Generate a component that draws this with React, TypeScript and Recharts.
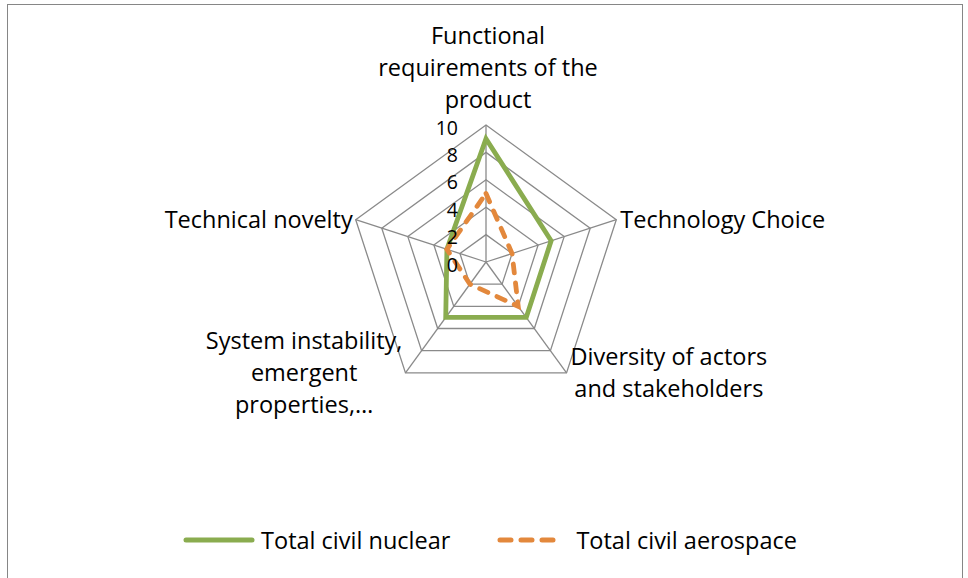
import { RadarChart, Radar, PolarGrid, PolarAngleAxis, PolarRadiusAxis, Legend } from "recharts"

const categories = [
  "Functional requirements of the product",
  "Technology Choice",
  "Diversity of actors and stakeholders",
  "System instability, emergent properties,…",
  "Technical novelty",
]
const categoryLines = [
  ["Functional", "requirements of the", "product"],
  ["Technology Choice"],
  ["Diversity of actors", "and stakeholders"],
  ["System instability,", "emergent", "properties,…"],
  ["Technical novelty"],
]
const seriesNames = ["Total civil nuclear", "Total civil aerospace"]
const civilNuclear = [9, 5, 5, 5, 3]
const civilAerospace = [5, 2, 4, 2, 3]
const radiusTicks = [0, 2, 4, 6, 8, 10]

const data = categories.map((c, i) => ({
  category: c,
  nuclear: civilNuclear[i],
  aerospace: civilAerospace[i],
}))

const CX = 486
const CY = 262
const R = 137
const FONT = "'Open Sans', Lato, sans-serif"
const FS = 23.5
const TICK_FS = 19.5
const LINE_H = 32
const GREEN = "#8AAC4F"
const ORANGE = "#E3883C"
const GRID = "#8a8a8a"

let ctx: CanvasRenderingContext2D | null = null
function textWidth(s: string) {
  if (!ctx) ctx = document.createElement("canvas").getContext("2d")
  if (!ctx) return s.length * FS * 0.55
  ctx.font = `${FS}px 'Open Sans'`
  return ctx.measureText(s).width
}

function AngleTick(props: any) {
  const { x, y, payload } = props
  const idx = categories.indexOf(payload.value)
  const lines = categoryLines[idx] || [String(payload.value)]
  const dx = x - CX
  const dy = y - CY
  const len = Math.sqrt(dx * dx + dy * dy) || 1
  const vx = CX + (dx / len) * R
  const vy = CY + (dy / len) * R
  const maxW = Math.max(...lines.map(textWidth))

  let centerX = vx
  let firstY = vy
  if (Math.abs(dx) < 2 && dy < 0) {
    // top label sits above the vertex
    centerX = vx + 2
    firstY = vy - 26 - (lines.length - 1) * LINE_H
  } else {
    centerX = dx > 0 ? vx + 4 + maxW / 2 : vx - 3 - maxW / 2
    firstY = vy - 1 - ((lines.length - 1) * LINE_H) / 2
  }
  return (
    <text textAnchor="middle" fontFamily={FONT} fontSize={FS} fill="#000">
      {lines.map((l, i) => (
        <tspan key={i} x={centerX} y={firstY + i * LINE_H} dominantBaseline="central">
          {l}
        </tspan>
      ))}
    </text>
  )
}

function RadiusTick(props: any) {
  const { x, y, payload } = props
  return (
    <text x={x - 28} y={y + 2} textAnchor="end" dominantBaseline="central" fontFamily={FONT} fontSize={TICK_FS} fill="#000">
      {payload.value}
    </text>
  )
}

function LegendContent(props: any) {
  const items = [...(props.payload || [])].sort(
    (a: any, b: any) => seriesNames.indexOf(a.value) - seriesNames.indexOf(b.value)
  )
  return (
    <div style={{ display: "flex", justifyContent: "center", alignItems: "center", paddingLeft: 12, fontFamily: FONT, fontSize: FS }}>
      {items.map((it: any, i: number) => (
        <div key={i} style={{ display: "flex", alignItems: "center", marginLeft: i === 0 ? 0 : 46 }}>
          <svg width={i === 0 ? 72 : 62} height={12}>
            {i === 0 ? (
              <line x1={3} y1={6} x2={69} y2={6} stroke={it.color} strokeWidth={5} strokeLinecap="round" />
            ) : (
              <line x1={4} y1={6} x2={58} y2={6} stroke={it.color} strokeWidth={5} strokeLinecap="round" strokeDasharray="11 10" />
            )}
          </svg>
          <span style={{ marginLeft: i === 0 ? 6 : 18, color: "#000" }}>{it.value}</span>
        </div>
      ))}
    </div>
  )
}

export default function App() {
  return (
    <div style={{ position: "absolute", left: 0, top: 0, width: 968, height: 578, background: "#fff", overflow: "hidden" }}>
      <div
        style={{
          position: "absolute",
          left: 7,
          top: 4,
          width: 956,
          height: 600,
          border: "1px solid #868686",
          boxSizing: "border-box",
        }}
      />
      <RadarChart width={968} height={578} data={data} cx={CX} cy={CY} outerRadius={R} style={{ position: "absolute", left: 0, top: 0 }}>
        <PolarGrid gridType="polygon" stroke={GRID} strokeWidth={1.3} strokeOpacity={1} polarRadius={radiusTicks.map((t) => (t / 10) * R)} />
        <PolarAngleAxis dataKey="category" tick={<AngleTick />} tickLine={false} axisLine={false} />
        <PolarRadiusAxis
          angle={90}
          domain={[0, 10]}
          ticks={radiusTicks}
          tickCount={6}
          tick={<RadiusTick />}
          axisLine={false}
          tickLine={false}
        />
        <Radar
          name={seriesNames[0]}
          dataKey="nuclear"
          stroke={GREEN}
          strokeWidth={4.8}
          fill="none"
          fillOpacity={0}
          dot={false}
          isAnimationActive={false}
        />
        <Radar
          name={seriesNames[1]}
          dataKey="aerospace"
          stroke={ORANGE}
          strokeWidth={4.8}
          strokeDasharray="9 10"
          strokeLinecap="round"
          fill="none"
          fillOpacity={0}
          dot={false}
          isAnimationActive={false}
        />
        <Legend content={<LegendContent />} wrapperStyle={{ position: "absolute", top: 524, left: 0, width: 968 }} />
      </RadarChart>
    </div>
  )
}
